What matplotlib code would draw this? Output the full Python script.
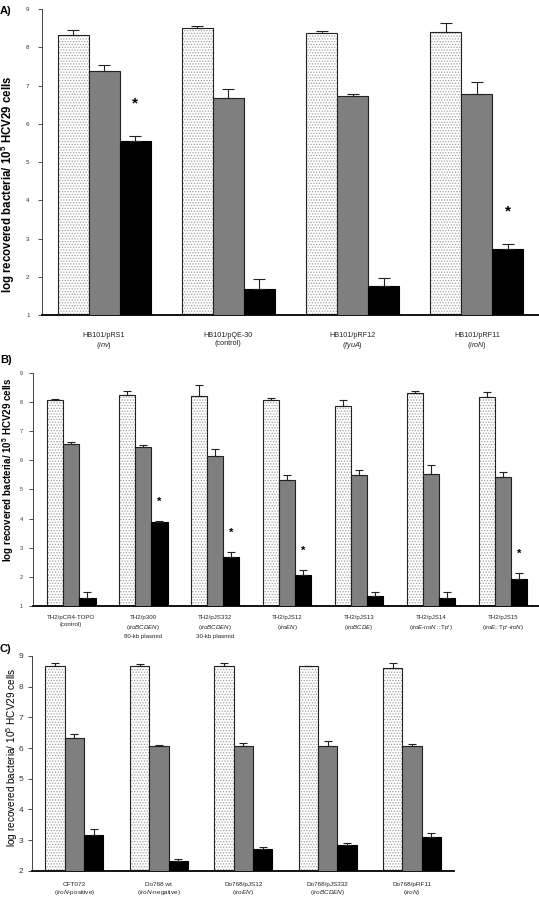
import numpy as np
import matplotlib
matplotlib.use('Agg')
import matplotlib.pyplot as plt

plt.rcParams['font.family'] = ['Liberation Sans', 'DejaVu Sans']
plt.rcParams['mathtext.fontset'] = 'custom'
plt.rcParams['mathtext.rm'] = 'Liberation Sans'
plt.rcParams['mathtext.it'] = 'Liberation Sans:italic'
plt.rcParams['mathtext.bf'] = 'Liberation Sans:bold'
plt.rcParams['hatch.linewidth'] = 0.6

# -- data -----------------------------------------------------------------
A_labels = ["HB101/pRS1\n($\\it{inv}$)", "HB101/pQE-30\n(control)",
            "HB101/pRF12\n($\\it{fyuA}$)", "HB101/pRF11\n($\\it{iroN}$)"]
A_dot = [8.32, 8.50, 8.38, 8.40]
A_dot_err = [0.13, 0.06, 0.05, 0.23]
A_gray = [7.37, 6.68, 6.72, 6.78]
A_gray_err = [0.16, 0.22, 0.06, 0.30]
A_black = [5.55, 1.68, 1.75, 2.73]
A_black_err = [0.13, 0.25, 0.22, 0.12]
A_star = [True, False, False, True]

B_labels = ["TH2/pCR4-TOPO\n(control)",
            "TH2/p300\n($\\it{iroBCDEN}$)\n80-kb plasmid",
            "TH2/pJS332\n($\\it{iroBCDEN}$)\n30-kb plasmid",
            "TH2/pJS12\n($\\it{iroEN}$)",
            "TH2/pJS13\n($\\it{iroBCDE}$)",
            "TH2/pJS14\n($\\it{iroE}$-$\\it{iroN}$ ::Tp$^\\mathrm{r}$)",
            "TH2/pJS15\n($\\it{iroE}$::Tp$^\\mathrm{r}$-$\\it{iroN}$)"]
B_dot = [8.05, 8.23, 8.19, 8.05, 7.87, 8.29, 8.16]
B_dot_err = [0.04, 0.15, 0.38, 0.07, 0.18, 0.08, 0.18]
B_gray = [6.57, 6.45, 6.16, 5.33, 5.49, 5.52, 5.44]
B_gray_err = [0.04, 0.08, 0.23, 0.18, 0.17, 0.33, 0.16]
B_black = [1.27, 3.88, 2.68, 2.06, 1.35, 1.27, 1.95]
B_black_err = [0.23, 0.03, 0.19, 0.19, 0.13, 0.23, 0.18]
B_star = [False, True, True, True, False, False, True]

C_labels = ["CFT073\n($\\it{iroN}$-positive)", "Do768 wt\n($\\it{iroN}$-negative)",
            "Do768/pJS12\n($\\it{iroEN}$)", "Do768/pJS332\n($\\it{iroBCDEN}$)",
            "Do768/pRF11\n($\\it{iroN}$)"]
C_dot = [8.68, 8.68, 8.68, 8.66, 8.61]
C_dot_err = [0.09, 0.06, 0.09, 0.02, 0.17]
C_gray = [6.32, 6.06, 6.06, 6.08, 6.08]
C_gray_err = [0.14, 0.05, 0.10, 0.14, 0.05]
C_black = [3.16, 2.32, 2.72, 2.83, 3.09]
C_black_err = [0.19, 0.07, 0.06, 0.06, 0.13]
C_star = [False] * 5

YLABEL = "log recovered bacteria/ 10$^5$ HCV29 cells"
YLABEL_BF = "log recovered bacteria/ 10$^\\mathbf{5}$ HCV29 cells"


def draw_panel(ax, labels, dot, dot_err, gray, gray_err, black, black_err,
               stars, ymin, width, xlim, tick_fs, tick_pad, lab_fs, lab_pad,
               lab_ls, cap, star_fs, star_off):
    x = np.arange(len(labels))
    # dotted bars: hatch first, then outline
    ax.bar(x - width, dot, width, color='white', edgecolor='#a0a0a0',
           hatch='......', linewidth=0, zorder=2)
    ax.bar(x - width, dot, width, color='none', edgecolor='#222222',
           linewidth=0.8, zorder=3)
    ax.bar(x, gray, width, color='#7f7f7f', edgecolor='#222222',
           linewidth=0.8, zorder=3)
    ax.bar(x + width, black, width, color='black', edgecolor='black',
           linewidth=0.8, zorder=3)
    for off, vals, errs in ((-width, dot, dot_err), (0, gray, gray_err),
                            (width, black, black_err)):
        ax.errorbar(x + off, vals, yerr=[np.zeros(len(errs)), errs],
                    fmt='none', ecolor='#222222', elinewidth=0.8,
                    capsize=cap, capthick=0.8, zorder=4)
    for i, s in enumerate(stars):
        if s:
            ax.text(x[i] + width, black[i] + black_err[i] + star_off, '*',
                    ha='center', va='center', fontsize=star_fs,
                    fontweight='bold', zorder=5)

    ax.set_xlim(*xlim)
    ax.set_ylim(ymin, 9)
    ax.set_yticks(range(ymin, 10))
    ax.tick_params(axis='y', labelsize=tick_fs, length=3, width=0.6,
                   colors='#333333', pad=tick_pad)
    ax.set_xticks(x)
    ax.set_xticklabels(labels, fontsize=lab_fs, color='#222222',
                       linespacing=lab_ls)
    ax.tick_params(axis='x', length=0, pad=lab_pad)
    for sp in ('top', 'right'):
        ax.spines[sp].set_visible(False)
    ax.spines['left'].set_linewidth(0.7)
    ax.spines['left'].set_color('#444444')
    ax.spines['bottom'].set_linewidth(1.3)
    ax.spines['bottom'].set_color('black')


W, H = 539, 897
fig = plt.figure(figsize=(W / 100, H / 100), dpi=100)
axA = fig.add_axes([0.0779, 0.6488, 0.9221, 0.3411])
axB = fig.add_axes([0.0612, 0.3241, 0.9388, 0.2604])
axC = fig.add_axes([0.0599, 0.0293, 0.7830, 0.2394])

draw_panel(axA, A_labels, A_dot, A_dot_err, A_gray, A_gray_err, A_black,
           A_black_err, A_star, 1, 0.25, (-0.5, 3.5), 4.5, 6, 5.2, 12, 1.2,
           4.0, 11, 0.85)
draw_panel(axB, B_labels, B_dot, B_dot_err, B_gray, B_gray_err, B_black,
           B_black_err, B_star, 1, 0.226, (-0.53, 6.5), 4.0, 4.5, 4.4, 6, 1.5,
           3.0, 8, 0.65)
draw_panel(axC, C_labels, C_dot, C_dot_err, C_gray, C_gray_err, C_black,
           C_black_err, C_star, 2, 0.229, (-0.5, 4.5), 6.0, 3.5, 4.6, 8, 1.25,
           3.0, 8, 0.7)

# y-axis titles, placed in pixels from the top-left of the figure
fig.text(8 / W, 1 - 184 / H, YLABEL_BF, rotation=90, ha='center', va='center',
         fontsize=8.3, fontweight='bold')
fig.text(8 / W, 1 - 470 / H, YLABEL_BF, rotation=90, ha='center', va='center',
         fontsize=7, fontweight='bold')
fig.text(12 / W, 1 - 757 / H, YLABEL, rotation=90, ha='center', va='center',
         fontsize=7.2)

fig.text(0.0, 0.993, "A)", fontsize=8, fontweight='bold', va='top')
fig.text(0.0, 0.604, "B)", fontsize=8, fontweight='bold', va='top')
fig.text(0.0, 0.282, "C)", fontsize=8, fontweight='bold', va='top')

fig.savefig("out.png", dpi=100)
